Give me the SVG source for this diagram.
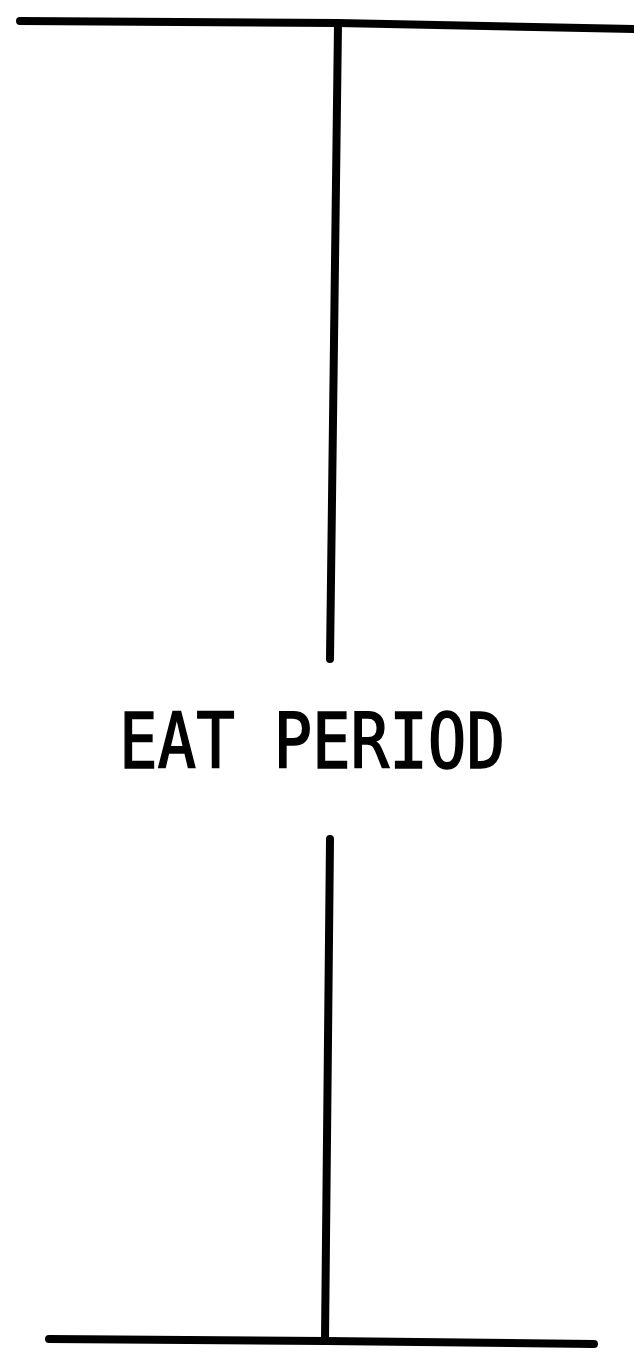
<svg xmlns="http://www.w3.org/2000/svg" width="634" height="1361" viewBox="0 0 634 1361">
<style>
.ln{stroke:#000;stroke-width:8;fill:none;stroke-linecap:round;stroke-linejoin:round}
.lbl{font-family:"DejaVu Sans Mono","Liberation Mono",monospace;font-weight:normal;font-size:77px;fill:#000;stroke:#000;stroke-width:1.6}
</style>
<rect width="634" height="1361" fill="#fff"/>
<g id="connectors">
<polyline class="ln" points="20,21 338,23 634,29"/>
<line class="ln" x1="338" y1="24" x2="330" y2="659"/>
<line class="ln" x1="330" y1="839" x2="325" y2="1340"/>
<polyline class="ln" points="49,1339 325,1341 594,1344"/>
</g>
<g id="label">
<text class="lbl" x="119" y="768" textLength="386" lengthAdjust="spacingAndGlyphs">EAT PERIOD</text>
</g>
</svg>
